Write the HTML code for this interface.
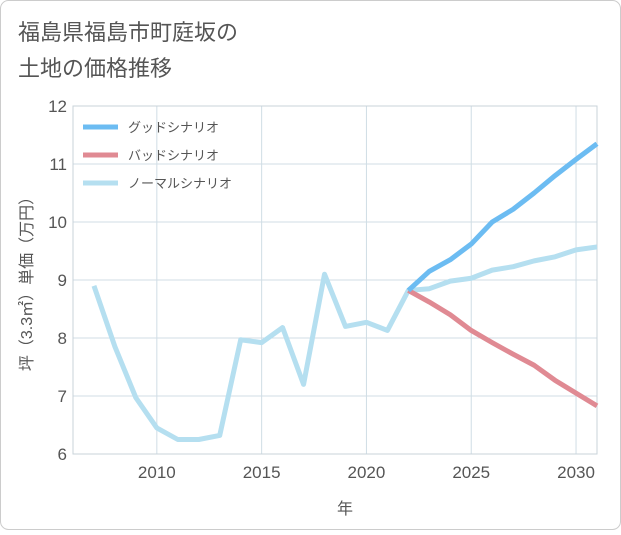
<!DOCTYPE html>
<html><head><meta charset="utf-8"><style>
body{margin:0;background:#fff;font-family:"Liberation Sans","Noto Sans CJK JP",sans-serif;}
#wrap{position:relative;width:621px;height:530px;}
</style></head><body>
<div id="wrap">
<svg id="svg" width="621" height="530" xmlns="http://www.w3.org/2000/svg">
<rect x="0.5" y="0.5" width="620" height="529" rx="8" fill="#fff" stroke="#ccc"/>
<text x="18" y="40" font-size="22" fill="#555">福島県福島市町庭坂の</text>
<text x="18" y="76" font-size="22" fill="#555">土地の価格推移</text>
<g id="grid"></g><g id="lines"></g><g id="legend"></g>
<text x="345" y="514" font-size="16" fill="#555" text-anchor="middle">年</text>
<text transform="translate(32,280) rotate(-90)" font-size="16" fill="#555" text-anchor="middle">坪（3.3㎡）単価（万円）</text>
</svg></div>
<script>
const years=[2007,2008,2009,2010,2011,2012,2013,2014,2015,2016,2017,2018,2019,2020,2021,2022,2023,2024,2025,2026,2027,2028,2029,2030,2031];
const normal=[8.9,7.85,6.97,6.45,6.25,6.25,6.32,7.97,7.92,8.18,7.2,9.1,8.2,8.27,8.13,8.82,8.85,8.98,9.03,9.17,9.23,9.33,9.4,9.52,9.57];
const futureYears=[2022,2023,2024,2025,2026,2027,2028,2029,2030,2031];
const good=[8.82,9.15,9.35,9.62,10.0,10.22,10.5,10.8,11.08,11.35];
const bad=[8.82,8.62,8.4,8.13,7.92,7.72,7.53,7.27,7.05,6.83];
const yTicks=[6,7,8,9,10,11,12];
const xTicks=[2010,2015,2020,2025,2030];
const L=73,R=597,T=106,B=454;
const xs=v=>L+(v-2006)/(2031-2006)*(R-L);
const ys=v=>B-(v-6)/6*(B-T);
const NS="http://www.w3.org/2000/svg";
function mk(tag,attrs,parent){const e=document.createElementNS(NS,tag);for(const k in attrs)e.setAttribute(k,attrs[k]);parent.appendChild(e);return e;}
const grid=document.getElementById('grid'),lines=document.getElementById('lines'),legend=document.getElementById('legend');
yTicks.forEach(v=>{const l=mk('line',{x1:L,x2:R,y1:ys(v),y2:ys(v),stroke:'#d0dde5'},grid);


const t=mk('text',{x:L-6,y:ys(v)+6,'font-size':17,fill:'#555','text-anchor':'end'},grid);t.textContent=v;

});
xTicks.forEach(v=>{const l=mk('line',{x1:xs(v),x2:xs(v),y1:T,y2:B,stroke:'#d0dde5'},grid);


const t=mk('text',{x:xs(v),y:B+24,'font-size':17,fill:'#555','text-anchor':'middle'},grid);t.textContent=v;

});
const frame=mk('rect',{x:L,y:T,width:R-L,height:B-T,fill:'none',stroke:'#c8d3da'},grid);


function series(xa,ya,color,name){const p=mk('polyline',{points:xa.map((x,i)=>xs(x)+','+ys(ya[i])).join(' '),fill:'none',stroke:color,'stroke-width':5,'stroke-linejoin':'round','stroke-linecap':'butt'},lines);

}
series(years,normal,'#b5dff0','line-normal');
series(futureYears,bad,'#e08a93','line-bad');
series(futureYears,good,'#6cbcf2','line-good');
const leg=[['グッドシナリオ','#6cbcf2'],['バッドシナリオ','#e08a93'],['ノーマルシナリオ','#b5dff0']];
leg.forEach((d,i)=>{const y=127+i*28;const g=mk('g',{},legend);


mk('line',{x1:83,x2:118,y1:y,y2:y,stroke:d[1],'stroke-width':5},g);
const t=mk('text',{x:128,y:y+5,'font-size':13,fill:'#555'},g);t.textContent=d[0];});
</script>
</body></html>
